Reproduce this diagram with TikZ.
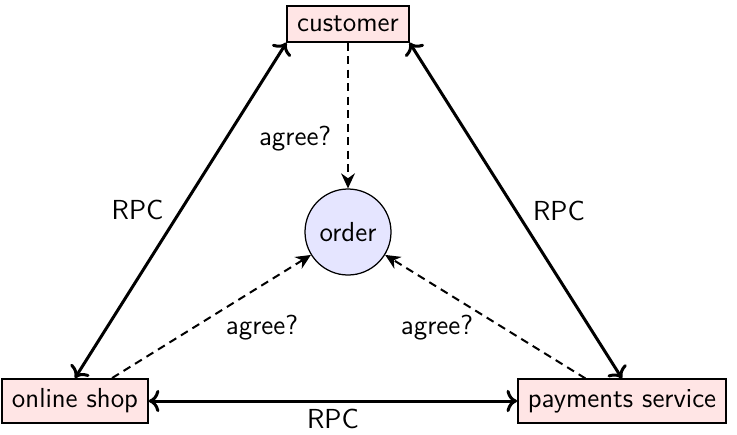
\documentclass[tikz,border=0pt]{standalone}
\usetikzlibrary{arrows.meta}
\begin{document}
\begin{tikzpicture}[x=0.4pt,y=-0.4pt,
  every node/.style={font=\fontsize{11}{13}\selectfont\sffamily},
  party/.style={draw,line width=0.6pt,fill=red!10,inner sep=4pt},
  obj/.style={draw,line width=0.5pt,fill=blue!10,circle,minimum size=34.4pt,inner sep=0pt},
  rpc/.style={<->,line width=1.2pt},
  agr/.style={-{Stealth[length=6pt,width=5.5pt]},dash pattern=on 3.2pt off 2.2pt,line width=0.8pt}]
\useasboundingbox (0,0) rectangle (737,434);
\node[party] (customer) at (348,24) {customer};
\node[party] (shop) at (75,401) {online shop};
\node[party] (pay) at (622,401) {payments service};
\node[obj] (order) at (348,232) {order};
\draw[rpc] (shop.north) -- node[pos=0.5,left=3pt] {RPC} (customer.south west);
\draw[rpc] (pay.north) -- node[pos=0.5,right=3pt] {RPC} (customer.south east);
\draw[rpc] (shop.east) -- node[below=-0.5pt] {RPC} (pay.west);
\draw[agr] (customer.south) -- node[pos=0.66,left=3pt] {agree?} (order.north);
\draw[agr] (shop) -- (order);
\draw[agr] (pay) -- (order);
\node (a1) at (262,328) {agree?};
\node (a2) at (437,328) {agree?};
\end{tikzpicture}
\end{document}
